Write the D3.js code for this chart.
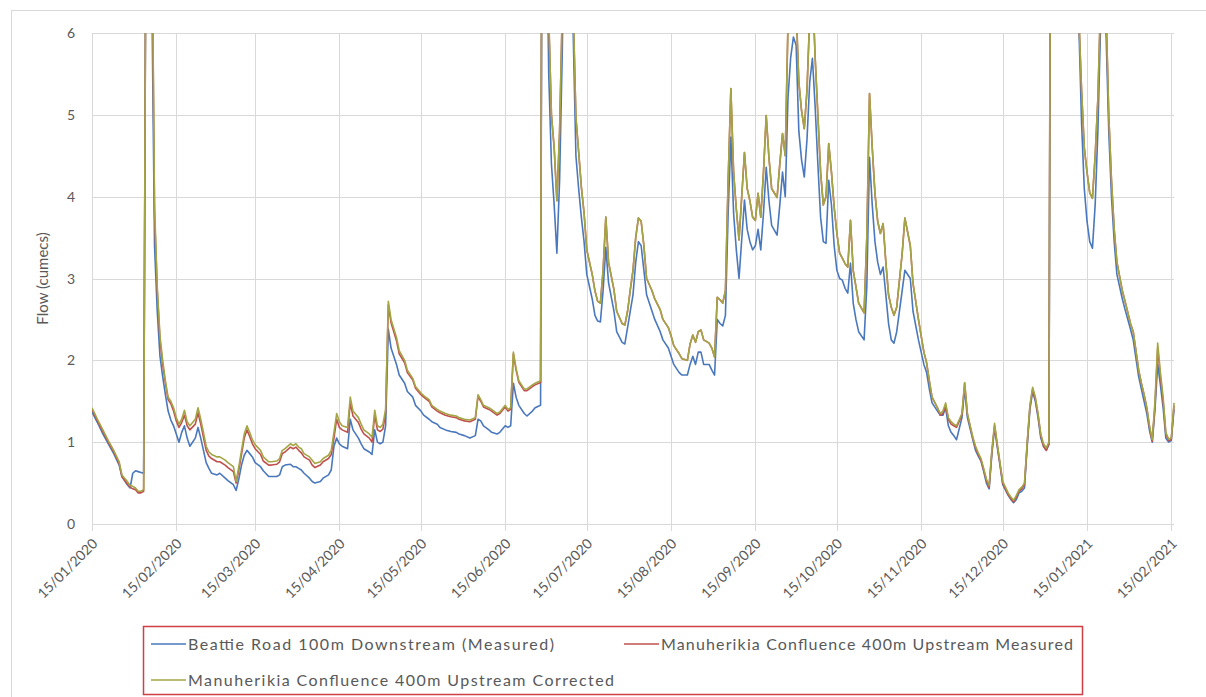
<!DOCTYPE html>
<html>
<head>
<meta charset="utf-8">
<script src="https://cdn.jsdelivr.net/npm/d3@7"></script>
<style>
  html, body { margin: 0; padding: 0; background: #ffffff; }
  svg { display: block; }
  text { font-family: Lato, "Open Sans", "Liberation Sans", sans-serif; fill: #595959; }
</style>
</head>
<body>
<svg id="chart" width="1206" height="697"></svg>
<script>
// Daily flow readings (cumecs) at the two Manuherikia monitoring sites.
const dates = [
  "2020-01-15","2020-01-17","2020-01-19","2020-01-21","2020-01-23","2020-01-25","2020-01-26","2020-01-28","2020-01-29","2020-01-30","2020-01-31",
  "2020-02-01","2020-02-02","2020-02-03","2020-02-04","2020-02-05","2020-02-06","2020-02-07","2020-02-08","2020-02-09","2020-02-10","2020-02-11","2020-02-12","2020-02-13","2020-02-14","2020-02-15","2020-02-16","2020-02-17","2020-02-18","2020-02-19","2020-02-20","2020-02-22","2020-02-23","2020-02-24","2020-02-25","2020-02-26","2020-02-27","2020-02-28",
  "2020-03-01","2020-03-02","2020-03-04","2020-03-05","2020-03-07","2020-03-08","2020-03-09","2020-03-10","2020-03-11","2020-03-12","2020-03-13","2020-03-14","2020-03-15","2020-03-17","2020-03-18","2020-03-20","2020-03-21","2020-03-23","2020-03-24","2020-03-25","2020-03-26","2020-03-28","2020-03-29","2020-03-30","2020-03-31",
  "2020-04-01","2020-04-02","2020-04-04","2020-04-05","2020-04-06","2020-04-08","2020-04-09","2020-04-11","2020-04-12","2020-04-13","2020-04-14","2020-04-15","2020-04-16","2020-04-18","2020-04-19","2020-04-20","2020-04-22","2020-04-23","2020-04-24","2020-04-26","2020-04-27","2020-04-28","2020-04-29","2020-04-30",
  "2020-05-01","2020-05-02","2020-05-03","2020-05-04","2020-05-06","2020-05-07","2020-05-09","2020-05-10","2020-05-12","2020-05-13","2020-05-15","2020-05-16","2020-05-18","2020-05-19","2020-05-21","2020-05-22","2020-05-24","2020-05-26","2020-05-28","2020-05-29","2020-05-31",
  "2020-06-02","2020-06-04","2020-06-05","2020-06-06","2020-06-07","2020-06-09","2020-06-10","2020-06-12","2020-06-13","2020-06-15","2020-06-16","2020-06-17","2020-06-18","2020-06-19","2020-06-20","2020-06-22","2020-06-23","2020-06-25","2020-06-26","2020-06-28","2020-06-29","2020-06-30",
  "2020-07-01","2020-07-02","2020-07-03","2020-07-04","2020-07-05","2020-07-06","2020-07-07","2020-07-09","2020-07-10","2020-07-11","2020-07-12","2020-07-13","2020-07-14","2020-07-15","2020-07-17","2020-07-18","2020-07-19","2020-07-20","2020-07-21","2020-07-22","2020-07-23","2020-07-25","2020-07-26","2020-07-28","2020-07-29","2020-07-30","2020-07-31",
  "2020-08-01","2020-08-02","2020-08-03","2020-08-04","2020-08-05","2020-08-06","2020-08-08","2020-08-09","2020-08-11","2020-08-12","2020-08-14","2020-08-15","2020-08-16","2020-08-18","2020-08-19","2020-08-21","2020-08-22","2020-08-23","2020-08-24","2020-08-25","2020-08-26","2020-08-27","2020-08-29","2020-08-30","2020-08-31",
  "2020-09-01","2020-09-02","2020-09-03","2020-09-04","2020-09-05","2020-09-06","2020-09-07","2020-09-08","2020-09-09","2020-09-11","2020-09-12","2020-09-13","2020-09-14","2020-09-15","2020-09-16","2020-09-17","2020-09-18","2020-09-19","2020-09-20","2020-09-21","2020-09-23","2020-09-24","2020-09-25","2020-09-26","2020-09-27","2020-09-28","2020-09-29","2020-09-30",
  "2020-10-01","2020-10-02","2020-10-03","2020-10-04","2020-10-05","2020-10-06","2020-10-07","2020-10-08","2020-10-09","2020-10-10","2020-10-11","2020-10-12","2020-10-13","2020-10-14","2020-10-15","2020-10-16","2020-10-17","2020-10-18","2020-10-19","2020-10-20","2020-10-21","2020-10-22","2020-10-23","2020-10-25","2020-10-26","2020-10-27","2020-10-28","2020-10-29","2020-10-30","2020-10-31",
  "2020-11-01","2020-11-02","2020-11-03","2020-11-04","2020-11-05","2020-11-06","2020-11-08","2020-11-09","2020-11-11","2020-11-12","2020-11-14","2020-11-15","2020-11-16","2020-11-17","2020-11-18","2020-11-19","2020-11-21","2020-11-22","2020-11-23","2020-11-24","2020-11-25","2020-11-26","2020-11-27","2020-11-28","2020-11-30",
  "2020-12-01","2020-12-02","2020-12-04","2020-12-05","2020-12-06","2020-12-07","2020-12-08","2020-12-09","2020-12-10","2020-12-11","2020-12-12","2020-12-13","2020-12-14","2020-12-15","2020-12-17","2020-12-18","2020-12-19","2020-12-20","2020-12-21","2020-12-22","2020-12-23","2020-12-24","2020-12-25","2020-12-26","2020-12-27","2020-12-28","2020-12-29","2020-12-30","2020-12-31",
  "2021-01-01","2021-01-02","2021-01-04","2021-01-07","2021-01-09","2021-01-11","2021-01-12","2021-01-13","2021-01-14","2021-01-15","2021-01-16","2021-01-17","2021-01-18","2021-01-19","2021-01-20","2021-01-21","2021-01-22","2021-01-23","2021-01-24","2021-01-25","2021-01-26","2021-01-28","2021-01-29","2021-01-31",
  "2021-02-01","2021-02-03","2021-02-04","2021-02-05","2021-02-06","2021-02-07","2021-02-08","2021-02-09","2021-02-10","2021-02-11","2021-02-12","2021-02-13","2021-02-14","2021-02-15","2021-02-16"
];

// Beattie Road, 100 m downstream (measured)
const beattieDownstream = [
  1.37,1.24,1.10,0.98,0.86,0.72,0.58,0.48,0.44,0.62,0.65,
  0.64,0.63,0.62,9.0,11,6.5,3.4,2.6,2.05,1.8,1.58,1.38,1.27,1.20,1.10,1.00,1.12,1.20,1.05,0.95,1.05,1.18,1.05,0.90,0.75,0.68,0.62,
  0.60,0.62,0.56,0.53,0.48,0.41,0.55,0.72,0.84,0.90,0.86,0.82,0.75,0.70,0.65,0.58,0.58,0.58,0.60,0.70,0.72,0.73,0.70,0.70,0.68,
  0.66,0.62,0.56,0.52,0.50,0.52,0.56,0.60,0.66,0.95,1.05,0.98,0.95,0.92,1.28,1.15,1.05,0.98,0.92,0.88,0.85,1.15,1.00,0.98,
  1.00,1.20,2.38,2.15,1.95,1.82,1.72,1.62,1.55,1.45,1.38,1.33,1.28,1.25,1.22,1.18,1.15,1.13,1.12,1.10,1.08,
  1.05,1.08,1.28,1.26,1.20,1.15,1.12,1.10,1.12,1.20,1.18,1.20,1.72,1.55,1.45,1.35,1.32,1.38,1.42,1.45,14,8,
  5.5,4.4,3.9,3.31,4.2,5.8,8.5,9.5,6.0,4.5,4.1,3.75,3.45,3.05,2.75,2.55,2.48,2.47,2.85,3.38,2.95,2.60,2.35,2.22,2.20,2.40,2.60,
  2.80,3.20,3.45,3.40,3.10,2.80,2.60,2.50,2.35,2.25,2.15,2.05,1.95,1.85,1.82,1.82,1.95,2.05,1.95,2.10,2.10,1.95,1.95,1.88,1.82,
  2.50,2.45,2.42,2.55,3.80,4.73,3.80,3.35,3.00,3.96,3.60,3.45,3.35,3.40,3.60,3.35,3.80,4.36,3.95,3.65,3.53,3.90,4.30,4.00,5.20,5.70,5.95,5.85,
  4.80,4.45,4.24,4.70,5.40,5.69,5.10,4.40,3.75,3.45,3.43,4.20,3.90,3.40,3.10,3.00,2.98,2.88,2.82,3.19,2.70,2.50,2.35,2.25,2.90,4.48,3.90,3.45,3.20,3.05,
  3.14,2.80,2.45,2.25,2.21,2.35,2.85,3.10,3.00,2.60,2.25,2.10,1.95,1.85,1.65,1.48,1.38,1.33,1.33,1.42,1.20,1.12,1.08,1.03,1.30,
  1.65,1.30,1.03,0.90,0.83,0.77,0.64,0.50,0.43,0.85,1.18,0.94,0.72,0.48,0.35,0.30,0.26,0.30,0.38,0.40,0.44,0.95,1.40,1.62,1.50,1.30,1.05,0.95,0.90,
  0.97,13,14,11,9.5,7.0,6.1,4.9,4.1,3.7,3.45,3.37,3.9,4.8,6.1,6.7,6.0,4.8,4.0,3.45,3.05,2.75,2.62,2.38,
  2.25,1.80,1.65,1.50,1.35,1.14,1.00,1.40,1.95,1.70,1.42,1.05,1.00,1.02,1.40
];

// Manuherikia confluence, 400 m upstream (measured)
const confluenceMeasured = [
  1.40,1.26,1.13,1.00,0.88,0.74,0.58,0.49,0.45,0.43,0.42,
  0.38,0.38,0.40,9.0,12,7.5,3.8,2.85,2.25,1.95,1.72,1.52,1.47,1.38,1.26,1.18,1.24,1.33,1.20,1.15,1.22,1.36,1.22,1.06,0.90,0.83,0.80,
  0.76,0.76,0.72,0.69,0.64,0.50,0.66,0.85,1.05,1.15,1.07,0.98,0.92,0.85,0.77,0.72,0.72,0.73,0.76,0.86,0.88,0.94,0.92,0.94,0.90,
  0.87,0.82,0.78,0.72,0.69,0.72,0.76,0.80,0.85,1.05,1.28,1.18,1.15,1.12,1.48,1.32,1.24,1.16,1.10,1.05,1.00,1.33,1.15,1.13,
  1.16,1.35,2.68,2.46,2.24,2.08,1.97,1.85,1.76,1.66,1.58,1.55,1.50,1.43,1.38,1.36,1.33,1.31,1.30,1.28,1.26,
  1.25,1.28,1.56,1.50,1.43,1.40,1.38,1.33,1.35,1.43,1.38,1.40,2.08,1.88,1.73,1.63,1.63,1.68,1.70,1.73,15,9,
  6.2,5.0,4.6,3.95,4.8,6.3,9,10,6.3,4.97,4.55,4.12,3.80,3.35,3.05,2.85,2.72,2.70,3.10,3.75,3.20,2.86,2.60,2.45,2.43,2.60,2.86,
  3.10,3.50,3.74,3.70,3.40,3.00,2.85,2.75,2.62,2.50,2.40,2.30,2.18,2.08,2.02,2.00,2.20,2.31,2.22,2.35,2.37,2.25,2.21,2.15,2.04,
  2.77,2.74,2.70,2.85,4.20,5.32,4.30,3.85,3.47,4.54,4.10,3.95,3.75,3.71,4.04,3.75,4.30,4.99,4.48,4.10,3.99,4.40,4.77,4.50,6.10,6.80,7.00,6.30,
  5.40,5.05,4.83,5.30,6.20,6.60,5.70,5.00,4.30,3.90,4.00,4.65,4.30,3.87,3.55,3.31,3.25,3.18,3.14,3.71,3.10,2.90,2.70,2.58,3.50,5.26,4.60,4.04,3.70,3.55,
  3.67,3.20,2.80,2.65,2.55,2.65,3.30,3.74,3.40,2.94,2.50,2.30,2.10,1.97,1.75,1.55,1.42,1.33,1.35,1.45,1.28,1.22,1.20,1.18,1.33,
  1.72,1.34,1.05,0.93,0.85,0.78,0.66,0.53,0.45,0.88,1.20,0.96,0.73,0.50,0.36,0.31,0.27,0.33,0.40,0.43,0.48,0.98,1.43,1.65,1.53,1.33,1.08,0.95,0.90,
  0.98,14,15,12,10,7.5,6.2,5.3,4.6,4.3,4.05,3.98,4.5,5.2,6.4,7.0,6.3,5.0,4.2,3.6,3.2,2.85,2.72,2.45,
  2.35,1.88,1.72,1.58,1.42,1.18,1.01,1.45,2.15,1.80,1.50,1.10,1.02,1.03,1.45
];

// Manuherikia confluence, 400 m upstream (corrected)
const confluenceCorrected = [
  1.42,1.28,1.15,1.02,0.90,0.76,0.60,0.52,0.47,0.46,0.44,
  0.40,0.40,0.42,9.0,12,7.5,3.9,2.9,2.3,2.0,1.75,1.55,1.50,1.42,1.30,1.22,1.28,1.39,1.25,1.20,1.28,1.42,1.28,1.12,0.95,0.88,0.85,
  0.82,0.82,0.78,0.75,0.70,0.52,0.70,0.90,1.10,1.20,1.12,1.03,0.97,0.90,0.82,0.76,0.76,0.77,0.80,0.90,0.92,0.98,0.96,0.98,0.94,
  0.92,0.86,0.82,0.78,0.74,0.76,0.80,0.84,0.90,1.12,1.35,1.25,1.20,1.18,1.55,1.38,1.30,1.22,1.15,1.10,1.06,1.39,1.20,1.18,
  1.22,1.40,2.72,2.50,2.28,2.12,2.00,1.88,1.78,1.68,1.60,1.57,1.52,1.45,1.40,1.38,1.35,1.33,1.32,1.30,1.28,
  1.27,1.30,1.58,1.52,1.45,1.42,1.40,1.35,1.37,1.45,1.40,1.42,2.10,1.90,1.75,1.65,1.65,1.70,1.72,1.75,15,9,
  6.2,5.0,4.6,3.95,4.8,6.3,9,10,6.3,4.97,4.55,4.12,3.80,3.35,3.05,2.85,2.72,2.70,3.10,3.75,3.20,2.86,2.60,2.45,2.43,2.60,2.86,
  3.10,3.50,3.74,3.70,3.40,3.00,2.85,2.75,2.62,2.50,2.40,2.30,2.18,2.08,2.02,2.00,2.20,2.31,2.22,2.35,2.37,2.25,2.21,2.15,2.04,
  2.77,2.74,2.70,2.85,4.20,5.32,4.30,3.85,3.47,4.54,4.10,3.95,3.75,3.71,4.04,3.75,4.30,4.99,4.48,4.10,3.99,4.40,4.77,4.50,6.10,6.80,7.00,6.30,
  5.40,5.05,4.83,5.30,6.20,6.60,5.70,5.00,4.30,3.90,4.00,4.65,4.30,3.87,3.55,3.31,3.25,3.18,3.14,3.71,3.10,2.90,2.70,2.58,3.50,5.26,4.60,4.04,3.70,3.55,
  3.67,3.20,2.80,2.65,2.55,2.65,3.30,3.74,3.40,2.94,2.50,2.30,2.10,1.97,1.75,1.55,1.42,1.35,1.38,1.48,1.30,1.25,1.22,1.20,1.35,
  1.73,1.35,1.06,0.95,0.87,0.80,0.68,0.55,0.47,0.90,1.23,0.98,0.75,0.52,0.38,0.33,0.29,0.35,0.42,0.45,0.50,1.00,1.45,1.67,1.55,1.35,1.10,0.98,0.93,
  1.00,14,15,12,10,7.5,6.2,5.3,4.6,4.3,4.05,3.98,4.5,5.2,6.4,7.0,6.3,5.0,4.2,3.6,3.2,2.85,2.72,2.45,
  2.35,1.88,1.72,1.58,1.42,1.20,1.03,1.50,2.21,1.85,1.55,1.12,1.04,1.05,1.48
];

const seriesNames = [
  "Beattie Road 100m Downstream (Measured)",
  "Manuherikia Confluence 400m Upstream Measured",
  "Manuherikia Confluence 400m Upstream Corrected"
];
const seriesColors = ["#4a78bd", "#c0504d", "#a4a646"];

const xTickDates = [
  "2020-01-15","2020-02-15","2020-03-15","2020-04-15","2020-05-15","2020-06-15","2020-07-15",
  "2020-08-15","2020-09-15","2020-10-15","2020-11-15","2020-12-15","2021-01-15","2021-02-15"
];
const yTicks = [0, 1, 2, 3, 4, 5, 6];
const xDomain = ["2020-01-15", "2021-02-16"];
const yDomain = [0, 6];
const yTitle = "Flow (cumecs)";

// ---- layout ----
const plot = { left: 92, right: 1174, top: 33, bottom: 524 };
const parse = d3.timeParse("%Y-%m-%d");
const fmt = d3.timeFormat("%d/%m/%Y");

const x = d3.scaleTime().domain(xDomain.map(parse)).range([plot.left, plot.right]);
const y = d3.scaleLinear().domain(yDomain).range([plot.bottom, plot.top]);

const svg = d3.select("#chart");

// chart frame
svg.append("rect")
  .attr("x", 11.5).attr("y", 10.5)
  .attr("width", 1300).attr("height", 800)
  .attr("fill", "#ffffff")
  .attr("stroke", "#d9d9d9").attr("stroke-width", 1);

// gridlines
const grid = svg.append("g").attr("stroke", "#d9d9d9").attr("stroke-width", 1);
grid.selectAll("line.h").data(yTicks).join("line")
  .attr("class", "h")
  .attr("x1", plot.left).attr("x2", plot.right)
  .attr("y1", d => Math.round(y(d)) + 0.5).attr("y2", d => Math.round(y(d)) + 0.5);
grid.selectAll("line.v").data(xTickDates.map(parse)).join("line")
  .attr("class", "v")
  .attr("x1", d => Math.round(x(d)) + 0.5).attr("x2", d => Math.round(x(d)) + 0.5)
  .attr("y1", plot.top).attr("y2", plot.bottom + 7);

// y tick labels
svg.append("g").selectAll("text").data(yTicks).join("text")
  .attr("x", 75).attr("y", d => y(d))
  .attr("dy", "0.36em")
  .attr("text-anchor", "end")
  .attr("font-size", 14)
  .text(d => d);

// x tick labels, rotated
svg.append("g").selectAll("text").data(xTickDates.map(parse)).join("text")
  .attr("text-anchor", "end")
  .attr("font-size", 14)
  .attr("transform", d => `translate(${x(d) + 3},${plot.bottom + 17}) rotate(-45)`)
  .attr("dy", "0.35em")
  .text(d => fmt(d));

// y title
svg.append("text")
  .attr("transform", `translate(48,${(plot.top + plot.bottom) / 2}) rotate(-90)`)
  .attr("text-anchor", "middle")
  .attr("font-size", 15)
  .text(yTitle);

// series lines
svg.append("clipPath").attr("id", "plot-clip")
  .append("rect")
  .attr("x", plot.left).attr("y", plot.top)
  .attr("width", plot.right - plot.left + 2).attr("height", plot.bottom - plot.top);

const dateObjs = dates.map(parse);
const seriesValues = [beattieDownstream, confluenceMeasured, confluenceCorrected];
const line = d3.line().x(d => x(d[0])).y(d => y(d[1]));

const lines = svg.append("g").attr("clip-path", "url(#plot-clip)");
seriesValues.forEach((vals, i) => {
  lines.append("path")
    .datum(dateObjs.map((dt, j) => [dt, vals[j]]))
    .attr("fill", "none")
    .attr("stroke", seriesColors[i])
    .attr("stroke-width", 1.6)
    .attr("stroke-linejoin", "round")
    .attr("d", line);
});

// legend
const legend = svg.append("g");
legend.append("rect")
  .attr("x", 143.5).attr("y", 626.5).attr("width", 939).attr("height", 68)
  .attr("fill", "#ffffff").attr("stroke", "#cf3f43").attr("stroke-width", 1.5);

const legendItems = [
  { x: 151, y: 644, len: 366 },
  { x: 624, y: 644, len: 412 },
  { x: 151, y: 680, len: 426 }
];
legendItems.forEach((it, i) => {
  legend.append("line")
    .attr("x1", it.x).attr("x2", it.x + 35)
    .attr("y1", it.y).attr("y2", it.y)
    .attr("stroke", seriesColors[i]).attr("stroke-width", 1.6);
  legend.append("text")
    .attr("x", it.x + 37).attr("y", it.y)
    .attr("dy", "0.35em")
    .attr("font-size", 16)
    .attr("textLength", it.len)
    .attr("lengthAdjust", "spacing")
    .text(seriesNames[i]);
});
</script>
</body>
</html>
